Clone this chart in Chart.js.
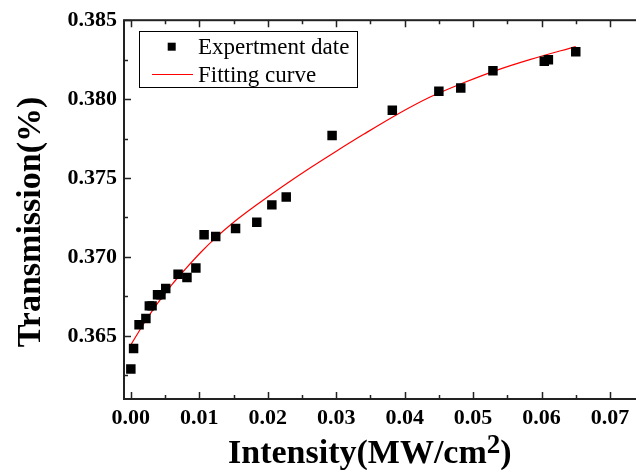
<!DOCTYPE html>
<html>
<head>
<meta charset="utf-8">
<script src="https://cdn.jsdelivr.net/npm/chart.js@4.4.1/dist/chart.umd.min.js"></script>
<style>
    html, body { margin: 0; padding: 0; background: #fff; }
    #wrap { width: 636px; height: 470px; }
</style>
</head>
<body>
<div id="wrap"><canvas id="transmision" width="636" height="470"></canvas></div>
<script>
// datos
const expX = [0.0000, 0.0004, 0.0012, 0.0022, 0.0027, 0.0031, 0.0039, 0.0044, 0.0051, 0.0069, 0.0082, 0.0095, 0.0107, 0.0124, 0.0153, 0.0184, 0.0206, 0.0227, 0.0294, 0.0382, 0.0450, 0.0482, 0.0529, 0.0604, 0.0610, 0.0650];
const expY = [0.3629, 0.3642, 0.3657, 0.3661, 0.3669, 0.3669, 0.3676, 0.3676, 0.3680, 0.3689, 0.3687, 0.3693, 0.3714, 0.3713, 0.3718, 0.3722, 0.3733, 0.3738, 0.3777, 0.3793, 0.3805, 0.3807, 0.3818, 0.3824, 0.3825, 0.3830];

const fitX = [0.0000, 0.0020, 0.0040, 0.0060, 0.0079, 0.0103, 0.0123, 0.0152, 0.0186, 0.0221, 0.0260, 0.0299, 0.0340, 0.0389, 0.0438, 0.0487, 0.0535, 0.0584, 0.0650];
const fitY = [0.36443, 0.36585, 0.36712, 0.36825, 0.36920, 0.37033, 0.37118, 0.37226, 0.37337, 0.37445, 0.37559, 0.37667, 0.37777, 0.37903, 0.38015, 0.38105, 0.38184, 0.38252, 0.38333];

const xTicks = [0.00, 0.01, 0.02, 0.03, 0.04, 0.05, 0.06, 0.07];
const yTicks = [0.365, 0.370, 0.375, 0.380, 0.385];

const serif = "'Liberation Serif', 'Times New Roman', serif";

const marco = {
    id: 'marco',
    afterDatasetsDraw(chart) {
        const { ctx, scales: { x, y } } = chart;
        const left = x.getPixelForValue(-0.001);
        const right = x.getPixelForValue(0.075);
        const top = y.getPixelForValue(0.385);
        const bottom = y.getPixelForValue(0.361);
        ctx.save();
        ctx.strokeStyle = '#222';
        ctx.lineWidth = 2;
        ctx.strokeRect(left, top, right - left, bottom - top);

        // marcas hacia dentro
        ctx.lineWidth = 1.5;
        ctx.beginPath();
        for (let i = 0; i <= 15; i++) {
            const v = i * 0.005;
            const px = Math.round(x.getPixelForValue(v)) + 0.5;
            const len = i % 2 === 0 ? 7 : 4;
            ctx.moveTo(px, bottom); ctx.lineTo(px, bottom - len);
            ctx.moveTo(px, top); ctx.lineTo(px, top + len);
        }
        for (let i = 0; i <= 9; i++) {
            const v = 0.3625 + i * 0.0025;
            const py = Math.round(y.getPixelForValue(v)) + 0.5;
            const len = i % 2 === 1 ? 7 : 4;
            ctx.moveTo(left, py); ctx.lineTo(left + len, py);
            ctx.moveTo(right, py); ctx.lineTo(right - len, py);
        }
        ctx.stroke();
        ctx.restore();
    },
    afterDraw(chart) {
        const ctx = chart.ctx;
        ctx.save();
        ctx.fillStyle = '#000';

        // titulo eje x con superindice
        ctx.font = 'bold 34px ' + serif;
        ctx.textBaseline = 'alphabetic';
        ctx.textAlign = 'left';
        let px = 228;
        const t1 = 'Intensity(MW/cm';
        ctx.fillText(t1, px, 463);
        px += ctx.measureText(t1).width;
        ctx.font = 'bold 27px ' + serif;
        ctx.fillText('2', px, 453);
        px += ctx.measureText('2').width;
        ctx.font = 'bold 34px ' + serif;
        ctx.fillText(')', px, 463);

        // titulo eje y
        ctx.save();
        ctx.translate(40, 222);
        ctx.rotate(-Math.PI / 2);
        ctx.textAlign = 'center';
        ctx.fillText('Transmission(%)', 0, 0);
        ctx.restore();

        // leyenda
        ctx.strokeStyle = '#000';
        ctx.lineWidth = 1;
        ctx.strokeRect(139.5, 31.5, 218, 56);
        ctx.fillRect(167.7, 42.7, 8, 8);
        ctx.strokeStyle = '#ff0000';
        ctx.beginPath();
        ctx.moveTo(152, 74.5); ctx.lineTo(193, 74.5);
        ctx.stroke();
        ctx.font = '23px ' + serif;
        ctx.fillText('Expertment date', 198, 54);
        ctx.fillText('Fitting curve', 198, 81.5);
        ctx.restore();
    }
};

const grafica = () => {
    const ctx = document.getElementById('transmision').getContext('2d');

    new Chart(ctx, {
        type: 'scatter',
        data: {
            datasets: [{
                label: 'Expertment date',
                data: expX.map((v, i) => ({ x: v, y: expY[i] })),
                pointStyle: 'rect',
                pointRadius: 6.7,
                pointBackgroundColor: '#000',
                pointBorderColor: '#000',
                pointBorderWidth: 0,
                showLine: false,
                order: 1
            }, {
                label: 'Fitting curve',
                type: 'line',
                data: fitX.map((v, i) => ({ x: v, y: fitY[i] })),
                borderColor: '#ff0000',
                borderWidth: 1.2,
                pointRadius: 0,
                cubicInterpolationMode: 'monotone',
                fill: false,
                order: 2
            }]
        },
        options: {
            responsive: false,
            animation: false,
            layout: { autoPadding: false, padding: { top: 20, right: 0, left: 0, bottom: 0 } },
            plugins: {
                legend: { display: false },
                tooltip: { enabled: false }
            },
            scales: {
                x: {
                    type: 'linear',
                    min: -0.001,
                    max: 0.0738,
                    grid: { display: false, drawTicks: false },
                    border: { display: false },
                    afterBuildTicks: (s) => { s.ticks = xTicks.map(v => ({ value: v })); },
                    afterFit: (s) => { s.height = 71; },
                    ticks: {
                        padding: 6,
                        color: '#000',
                        font: { family: serif, size: 22, weight: 'bold' },
                        callback: (v) => v.toFixed(2)
                    }
                },
                y: {
                    type: 'linear',
                    min: 0.361,
                    max: 0.385,
                    grid: { display: false, drawTicks: false },
                    border: { display: false },
                    afterBuildTicks: (s) => { s.ticks = yTicks.map(v => ({ value: v })); },
                    afterFit: (s) => { s.width = 124; },
                    ticks: {
                        padding: 7,
                        color: '#000',
                        font: { family: serif, size: 22, weight: 'bold' },
                        callback: (v) => v.toFixed(3)
                    }
                }
            }
        },
        plugins: [marco]
    });
}

grafica();
</script>
</body>
</html>
